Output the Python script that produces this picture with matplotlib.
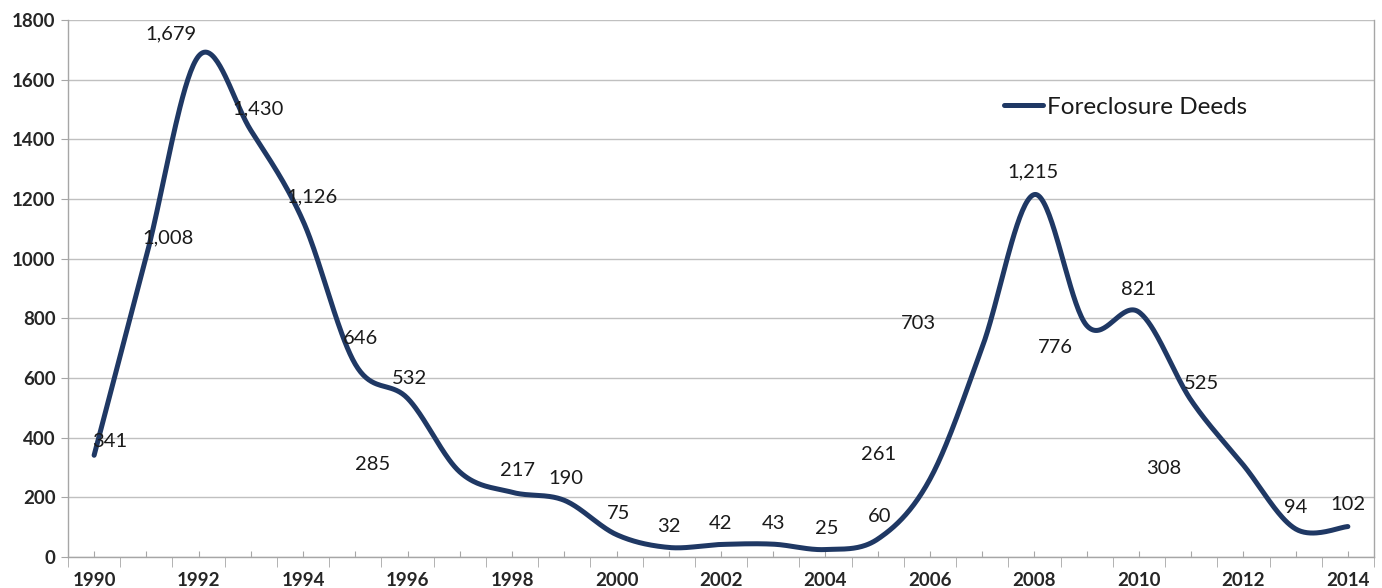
import numpy as np
import matplotlib
matplotlib.use("Agg")
import matplotlib.pyplot as plt
from matplotlib.ticker import FixedLocator

years = list(range(1990, 2015))
deeds = [341, 1008, 1679, 1430, 1126, 646, 532, 285, 217, 190, 75, 32, 42, 43,
         25, 60, 261, 703, 1215, 776, 821, 525, 308, 94, 102]
value_labels = ["341", "1,008", "1,679", "1,430", "1,126", "646", "532", "285",
                "217", "190", "75", "32", "42", "43", "25", "60", "261", "703",
                "1,215", "776", "821", "525", "308", "94", "102"]
series_name = "Foreclosure Deeds"
y_ticks = [0, 200, 400, 600, 800, 1000, 1200, 1400, 1600, 1800]

# label offsets in pixels (layout only)
label_offsets = [(16, 14), (22, 18), (-28, 22), (7, 22), (9, 24), (5, 26), (2, 20),
                 (-87, 7), (5, 22), (2, 22), (2, 21), (0, 21), (0, 21), (0, 21),
                 (1, 21), (2, 23), (-51, 25), (-64, 24), (-1, 23), (-31, -22),
                 (0, 23), (10, 17), (-80, -3), (0, 21), (0, 22)]

LINE = "#1f3864"
GRID = "#c0c0c0"
AX = "#a6a6a6"
FONT = ["Lato", "DejaVu Sans"]


def smooth(xs, ys, n=40):
    """Excel-style Bezier smoothing through the given points."""
    P = np.column_stack([xs, ys]).astype(float)
    Pe = np.vstack([P[0], P, P[-1]])
    out = []
    t = np.linspace(0, 1, n)[:, None]
    for i in range(len(P) - 1):
        p0 = Pe[i + 1]
        p3 = Pe[i + 2]
        c1 = p0 + (Pe[i + 2] - Pe[i]) / 6.0
        c2 = p3 - (Pe[i + 3] - Pe[i + 1]) / 6.0
        seg = ((1 - t) ** 3) * p0 + 3 * ((1 - t) ** 2) * t * c1 + 3 * (1 - t) * t ** 2 * c2 + t ** 3 * p3
        out.append(seg if i == 0 else seg[1:])
    return np.vstack(out)


fig = plt.figure(figsize=(13.82, 5.88), dpi=100)
ax = fig.add_axes([68 / 1382, 1 - 557 / 588, (1374 - 68) / 1382, (557 - 20) / 588])

idx = np.arange(len(years))
curve = smooth(idx, deeds)
ax.plot(curve[:, 0], curve[:, 1], color=LINE, lw=3.6, solid_capstyle="round",
        solid_joinstyle="round", label=series_name, zorder=3)

for i, (v, lab) in enumerate(zip(deeds, value_labels)):
    dx, dy = label_offsets[i]
    ax.annotate(lab, (i, v), xytext=(dx, dy), textcoords="offset pixels",
                ha="center", va="center", fontsize=14.5, color="#1a1a1a",
                family=FONT, zorder=4)

ax.set_xlim(-0.5, len(years) - 0.5)
ax.set_ylim(0, 1800)
ax.set_yticks(y_ticks)
ax.set_yticklabels([str(v) for v in y_ticks], family=FONT, fontsize=13.5,
                   fontweight="bold", color="#262626")
ax.yaxis.grid(True, color=GRID, lw=1)
ax.set_axisbelow(True)

ax.set_xticks(idx)
ax.set_xticklabels([str(y) if (y % 2 == 0) else "" for y in years], family=FONT,
                   fontsize=13.5, fontweight="bold", color="#262626")
ax.xaxis.set_minor_locator(FixedLocator(np.arange(-0.5, len(years), 1.0)))
ax.tick_params(axis="x", which="major", direction="in", length=4, color=AX, pad=11)
ax.tick_params(axis="x", which="minor", direction="out", length=7, color=AX)
ax.tick_params(axis="y", which="major", direction="out", length=5, color=AX, pad=4)

for s in ["left", "bottom", "right"]:
    ax.spines[s].set_color(AX)
    ax.spines[s].set_linewidth(1)
ax.spines["top"].set_visible(False)

leg = ax.legend(loc="center left", bbox_to_anchor=(1004 / 1382, 1 - 107 / 588),
                bbox_transform=fig.transFigure, frameon=False, borderpad=0,
                borderaxespad=0, handlelength=1.6, handletextpad=0.15,
                prop={"family": FONT, "size": 17.5})
for t in leg.get_texts():
    t.set_color("#1a1a1a")

fig.savefig("out.png", dpi=100)
